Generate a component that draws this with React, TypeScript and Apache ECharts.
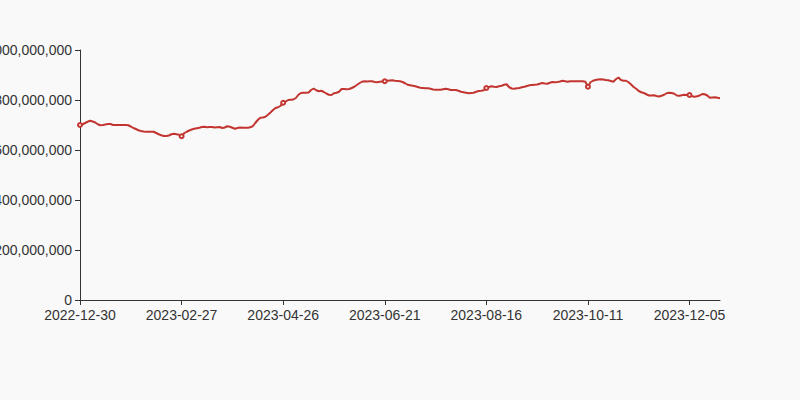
import React, { useEffect, useRef } from "react";
import * as echarts from "echarts";

// Label anchor dates (every 40th point) and the tail end date
const anchorDates = ["2022-12-30", "2023-02-27", "2023-04-26", "2023-06-21", "2023-08-16", "2023-10-11", "2023-12-05", "2023-12-22"];
const pointsPerSegment = [40, 40, 40, 40, 40, 40, 12];

// Series values, in millions
const valuesM = [
  700, 703, 708, 713, 717, 714, 710, 703, 699, 700,
  702, 704, 704, 700, 700, 700, 700, 700, 700, 699,
  694, 688, 684, 679, 676, 674, 673, 673, 673, 673,
  668, 663, 659, 656, 656, 658, 663, 665, 663, 661,
  655, 667, 673, 678, 682, 685, 687, 689, 692, 693,
  691, 692, 692, 690, 691, 692, 688, 690, 695, 693,
  689, 685, 688, 690, 689, 689, 689, 691, 695, 708,
  720, 729, 730, 733, 741, 750, 760, 768, 771, 777,
  789, 794, 800, 801, 802, 808, 821, 828, 829, 829,
  830, 840, 846, 839, 835, 837, 832, 826, 821, 820,
  827, 829, 833, 844, 844, 843, 844, 848, 853, 860,
  867, 873, 875, 874, 875, 875, 872, 871, 873, 874,
  875, 877, 878, 879, 877, 876, 875, 872, 867, 861,
  859, 857, 855, 852, 849, 848, 847, 847, 845, 842,
  841, 841, 841, 843, 845, 843, 840, 840, 840, 837,
  833, 831, 829, 827, 828, 829, 833, 836, 837, 839,
  848, 852, 855, 853, 852, 855, 857, 861, 863, 851,
  846, 845, 847, 848, 851, 853, 856, 859, 860, 861,
  862, 865, 868, 866, 865, 869, 872, 871, 872, 874,
  877, 875, 873, 875, 875, 875, 875, 875, 875, 873,
  853, 871, 877, 880, 882, 883, 882, 880, 879, 876,
  873, 883, 890, 880, 877, 877, 871, 862, 852, 845,
  836, 831, 828, 823, 818, 818, 819, 816, 814, 817,
  821, 827, 829, 828, 825, 818, 817, 819, 821, 820,
  820, 815, 813, 815, 818, 824, 823, 818, 809, 810,
  811, 809, 807,
];

function fmt(d: Date): string {
  const y = d.getUTCFullYear();
  const m = String(d.getUTCMonth() + 1).padStart(2, "0");
  const day = String(d.getUTCDate()).padStart(2, "0");
  return `${y}-${m}-${day}`;
}

function buildCategories(): string[] {
  const out: string[] = [];
  for (let s = 0; s < pointsPerSegment.length; s++) {
    const a = Date.parse(anchorDates[s] + "T00:00:00Z");
    const b = Date.parse(anchorDates[s + 1] + "T00:00:00Z");
    const n = pointsPerSegment[s];
    const days = Math.round((b - a) / 86400000);
    for (let j = 0; j < n; j++) {
      out.push(fmt(new Date(a + Math.round((j * days) / n) * 86400000)));
    }
  }
  out.push(anchorDates[anchorDates.length - 1]);
  return out;
}

const categories = buildCategories();
const seriesValues = valuesM.map((v) => v * 1000000);

export default function App() {
  const ref = useRef<HTMLDivElement>(null);
  useEffect(() => {
    document.body.style.margin = "0";
    const chart = echarts.init(ref.current!, null, { renderer: "svg" });
    chart.setOption({
      animation: false,
      backgroundColor: "#f9f9f9",
      textStyle: { fontFamily: "Liberation Sans, Arial, sans-serif" },
      grid: { left: 80, right: 80, top: 50, bottom: 100, containLabel: false, outerBoundsMode: "none" },
      xAxis: {
        type: "category",
        data: categories,
        boundaryGap: false,
        axisLine: { lineStyle: { color: "#333" } },
        axisTick: { lineStyle: { color: "#333" } },
        axisLabel: { color: "#333", fontSize: 14, interval: 39 },
      },
      yAxis: {
        type: "value",
        min: 0,
        max: 1000000000,
        interval: 200000000,
        axisLine: { show: true, lineStyle: { color: "#333" } },
        axisTick: { show: true, lineStyle: { color: "#333" } },
        axisLabel: { color: "#333", fontSize: 14 },
        splitLine: { show: false },
      },
      series: [
        {
          type: "line",
          data: seriesValues,
          symbol: "emptyCircle",
          symbolSize: 4,
          lineStyle: { color: "#c23531", width: 2 },
          itemStyle: { color: "#c23531" },
        },
      ],
    });
    return () => chart.dispose();
  }, []);
  return <div ref={ref} style={{ width: 800, height: 400 }} />;
}
